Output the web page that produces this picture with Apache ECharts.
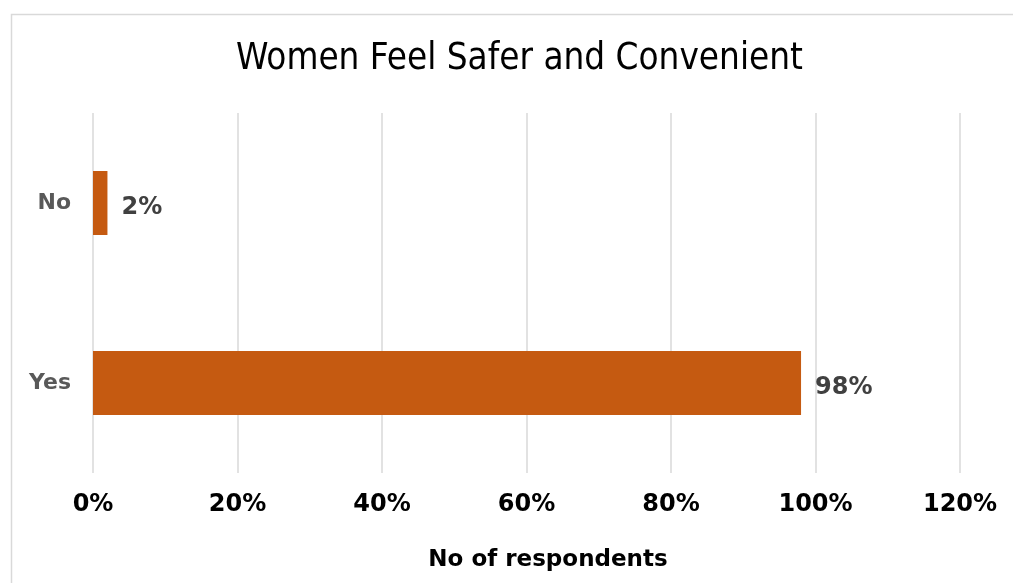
<!DOCTYPE html>
<html>
<head>
<meta charset="utf-8">
<script src="https://cdn.jsdelivr.net/npm/echarts@6/dist/echarts.min.js"></script>
<style>
html,body{margin:0;padding:0;background:#fff;}
#chart{width:1013px;height:583px;}
</style>
</head>
<body>
<div id="chart"></div>
<script>
const categories = ['Yes', 'No'];
const values = [98, 2];
const tickValues = [0, 20, 40, 60, 80, 100, 120];
const titleText = 'Women Feel Safer and Convenient';
const axisName = 'No of respondents';

const chart = echarts.init(document.getElementById('chart'), null, {renderer: 'canvas'});
chart.setOption({
  animation: false,
  backgroundColor: '#ffffff',
  title: {
    text: titleText,
    left: 236,
    top: 41,
    padding: 0,
    textStyle: {
      fontFamily: '"DejaVu Sans Condensed", "DejaVu Sans", sans-serif',
      fontWeight: 'normal',
      fontSize: 36.5,
      color: '#000000'
    }
  },
  graphic: [{
    type: 'rect',
    silent: true,
    shape: {x: 11.5, y: 14.5, width: 1100, height: 700},
    style: {fill: 'none', stroke: '#D9D9D9', lineWidth: 1.5}
  }],
  grid: {left: 93, right: 53, top: 113, bottom: 110, containLabel: false},
  xAxis: {
    type: 'value',
    min: tickValues[0],
    max: tickValues[tickValues.length - 1],
    interval: tickValues[1] - tickValues[0],
    axisLine: {show: false},
    axisTick: {show: false},
    splitLine: {show: true, lineStyle: {color: '#D9D9D9', width: 1.5}},
    axisLabel: {
      formatter: v => v + '%',
      margin: 20,
      fontFamily: '"DejaVu Sans", sans-serif',
      fontWeight: 'bold',
      fontSize: 24,
      color: '#000000'
    },
    name: axisName,
    nameLocation: 'middle',
    nameGap: 76,
    nameTextStyle: {
      fontFamily: '"DejaVu Sans", sans-serif',
      fontWeight: 'bold',
      fontSize: 23,
      color: '#000000',
      padding: [0, 0, 0, 43]
    }
  },
  yAxis: {
    type: 'category',
    data: categories,
    axisLine: {show: false},
    axisTick: {show: false},
    splitLine: {show: false},
    axisLabel: {
      margin: 22,
      fontFamily: '"DejaVu Sans", sans-serif',
      fontWeight: 'bold',
      fontSize: 22,
      color: '#595959'
    }
  },
  series: [{
    type: 'bar',
    data: values,
    barWidth: 64,
    itemStyle: {color: '#C55A11'},
    label: {
      show: true,
      position: 'right',
      distance: 14,
      offset: [0, 5],
      formatter: p => p.value + '%',
      fontFamily: '"DejaVu Sans", sans-serif',
      fontWeight: 'bold',
      fontSize: 24,
      color: '#404040'
    }
  }]
});
</script>
</body>
</html>
